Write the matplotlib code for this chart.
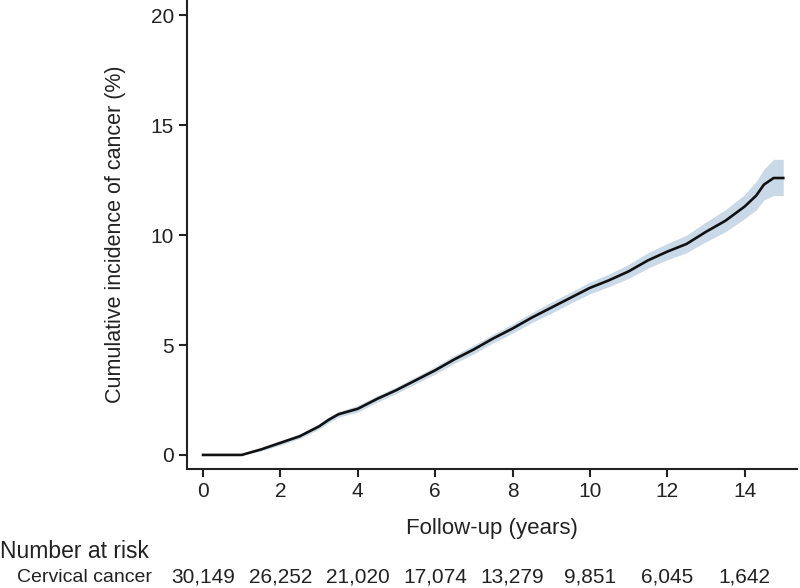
import numpy as np
import matplotlib
matplotlib.use('Agg')
import matplotlib.pyplot as plt

plt.rcParams['font.family'] = ['Liberation Sans', 'DejaVu Sans']

# follow-up time (years) and cumulative incidence (%)
years = [0, 0.5, 1.0, 1.5, 2.0, 2.5, 3.0, 3.25, 3.5, 4.0, 4.5, 5.0, 5.5, 6.0, 6.5,
         7.0, 7.5, 8.0, 8.5, 9.0, 9.5, 10.0, 10.5, 11.0, 11.5, 12.0, 12.5,
         13.0, 13.5, 14.0, 14.3, 14.5, 14.75, 15.0]
incidence = [0, 0, 0, 0.25, 0.55, 0.85, 1.3, 1.6, 1.85, 2.1, 2.55, 2.95, 3.4, 3.85, 4.35,
             4.8, 5.3, 5.75, 6.25, 6.7, 7.15, 7.6, 7.95, 8.35, 8.85, 9.25, 9.6,
             10.15, 10.65, 11.3, 11.8, 12.3, 12.6, 12.6]
ci_low = [0, 0, 0, 0.18, 0.45, 0.75, 1.18, 1.47, 1.72, 1.95, 2.4, 2.8, 3.24, 3.68, 4.17,
          4.6, 5.1, 5.54, 6.02, 6.45, 6.9, 7.33, 7.66, 8.03, 8.5, 8.88, 9.2,
          9.7, 10.15, 10.75, 11.15, 11.6, 11.8, 11.8]
ci_high = [0, 0, 0, 0.32, 0.65, 0.95, 1.42, 1.73, 1.98, 2.25, 2.7, 3.1, 3.56, 4.02, 4.53,
           5.0, 5.5, 5.96, 6.48, 6.95, 7.4, 7.87, 8.24, 8.67, 9.2, 9.62, 10.0,
           10.6, 11.15, 11.85, 12.45, 13.0, 13.45, 13.45]

risk_years = [0, 2, 4, 6, 8, 10, 12, 14]
at_risk = ['30,149', '26,252', '21,020', '17,074', '13,279', '9,851', '6,045', '1,642']

fig = plt.figure(figsize=(8, 5.88), dpi=100)
ax = fig.add_axes([0.234, 0.2024, 0.762, 0.7976])

ax.fill_between(years, ci_low, ci_high, color='#c9d9e8', linewidth=0)
ax.plot(years, incidence, color='#111111', linewidth=1.9)

ax.set_xlim(-0.41, 15.35)
ax.set_ylim(-0.64, 20.7)
ax.set_xticks(range(0, 15, 2))
ax.set_yticks([0, 5, 10, 15, 20])
ax.spines['top'].set_visible(False)
ax.spines['right'].set_visible(False)
for s in ['left', 'bottom']:
    ax.spines[s].set_linewidth(1.5)
    ax.spines[s].set_color('#222222')
ax.tick_params(labelsize=15, width=1.5, length=6, color='#222222', labelcolor='#222222')
ax.set_xlabel('Follow-up (years)', fontsize=16, color='#222222', labelpad=12)
ax.set_ylabel('Cumulative incidence of cancer (%)', fontsize=15.5, color='#222222', labelpad=18)

fig.text(0.0, 1 - 551 / 588, 'Number at risk', fontsize=16.5, color='#222222',
         ha='left', va='center')
fig.text(152 / 800, 1 - 577 / 588, 'Cervical cancer', fontsize=14, color='#222222',
         ha='right', va='center')
for yr, n in zip(risk_years, at_risk):
    xd = ax.transData.transform((yr, 0))[0]
    xf = fig.transFigure.inverted().transform((xd, 0))[0]
    fig.text(xf, 1 - 577 / 588, n, fontsize=15, color='#222222', ha='center', va='center')

fig.savefig('out.png', dpi=100)
